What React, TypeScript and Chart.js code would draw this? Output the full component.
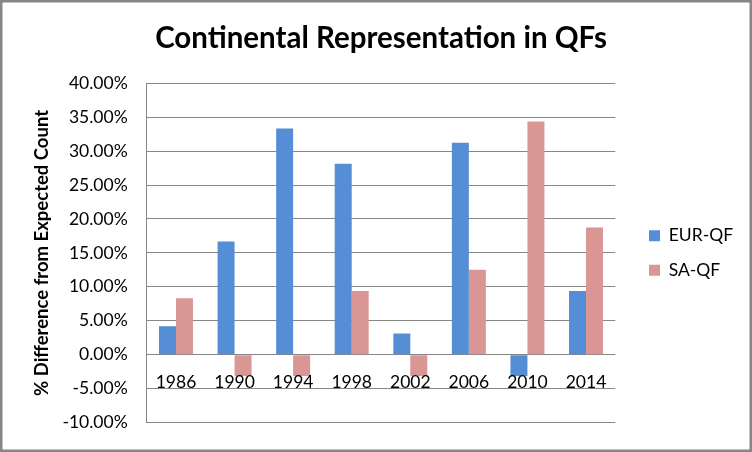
import { useEffect, useRef } from "react"
import { Chart, registerables } from "chart.js"

Chart.register(...registerables)

const years = ["1986", "1990", "1994", "1998", "2002", "2006", "2010", "2014"]
const eurQF = [4.17, 16.67, 33.33, 28.13, 3.13, 31.25, -3.13, 9.38]
const saQF = [8.33, -3.13, -3.13, 9.38, -3.13, 12.5, 34.38, 18.75]
const seriesNames = ["EUR-QF", "SA-QF"]
const yMin = -10
const yMax = 40
const yStep = 5

const FONT = "Lato"
const LABEL_SIZE = 17.5
const GRID = "#868686"

// white card with the grey frame around the whole picture
const frame = {
  id: "frame",
  beforeDraw(chart: Chart) {
    const { ctx, width, height } = chart
    ctx.save()
    ctx.fillStyle = "#fff"
    ctx.fillRect(0, 0, width, height)
    ctx.strokeStyle = GRID
    ctx.lineWidth = 2.5
    ctx.strokeRect(1.25, 1.25, width - 2.5, height - 2.5)
    ctx.restore()
  },
}

// category labels sit just under the zero line, like Excel does
const yearLabels = {
  id: "yearLabels",
  afterDatasetsDraw(chart: Chart) {
    const { ctx, scales } = chart
    const zero = scales.y.getPixelForValue(0)
    ctx.save()
    ctx.font = `${LABEL_SIZE}px ${FONT}`
    ctx.fillStyle = "#000"
    ctx.textAlign = "center"
    ctx.textBaseline = "alphabetic"
    years.forEach((yr, i) => {
      ctx.fillText(yr, scales.x.getPixelForValue(i), zero + 33)
    })
    ctx.restore()
  },
}

export default function App() {
  const chartRef = useRef<HTMLCanvasElement>(null)
  const chartInstance = useRef<Chart | null>(null)

  useEffect(() => {
    if (!chartRef.current) return
    if (chartInstance.current) chartInstance.current.destroy()

    const ctx = chartRef.current.getContext("2d")
    if (!ctx) return

    // legend width, so the plot ends where the reference's does
    ctx.font = `${LABEL_SIZE}px ${FONT}`
    const textW = Math.max(...seriesNames.map((n) => ctx.measureText(n).width))
    const legendPad = 17
    const legendW = legendPad + 11 + LABEL_SIZE / 2 + textW + 10
    const rightPad = Math.max(0, 752 - 632 - legendW)

    chartInstance.current = new Chart(ctx, {
      type: "bar",
      data: {
        labels: years,
        datasets: [
          {
            label: seriesNames[0],
            data: eurQF,
            backgroundColor: "#558ed5",
            categoryPercentage: 0.58,
            barPercentage: 1,
          },
          {
            label: seriesNames[1],
            data: saQF,
            backgroundColor: "#d99694",
            categoryPercentage: 0.58,
            barPercentage: 1,
          },
        ],
      },
      options: {
        responsive: true,
        maintainAspectRatio: false,
        animation: false,
        layout: { padding: { left: 0, right: rightPad, top: 0, bottom: 0 } },
        scales: {
          x: {
            grid: { display: false },
            border: { display: false },
            ticks: { display: false },
            afterFit: (s) => {
              s.height = 24.7
            },
          },
          y: {
            min: yMin,
            max: yMax,
            grid: { color: GRID, drawTicks: false },
            border: { display: true, color: GRID },
            ticks: {
              stepSize: yStep,
              padding: 19,
              color: "#000",
              font: { family: FONT, size: LABEL_SIZE },
              callback: (v) => Number(v).toFixed(2) + "%",
            },
            title: {
              display: true,
              text: "% Difference from Expected Count",
              color: "#000",
              font: { family: FONT, size: 18.5, weight: "bold" },
              padding: { top: 30.6, bottom: 0 },
            },
            afterFit: (s) => {
              s.width = 146.7
            },
          },
          // empty spacer between the plot and the legend
          gap: {
            type: "linear",
            position: "right",
            grid: { display: false },
            border: { display: false },
            ticks: { display: false },
            afterFit: (s) => {
              s.width = 16.7
            },
          },
        },
        plugins: {
          title: {
            display: true,
            fullSize: false,
            text: "Continental Representation in QFs",
            color: "#000",
            font: { family: FONT, size: 29.5, weight: "bold" },
            padding: { top: 20.6, bottom: 27.3 },
          },
          legend: {
            position: "right",
            fullSize: false,
            labels: {
              boxWidth: 11,
              boxHeight: 11,
              padding: legendPad,
              color: "#000",
              font: { family: FONT, size: LABEL_SIZE },
            },
          },
          tooltip: { enabled: false },
        },
      },
      plugins: [frame, yearLabels],
    })

    return () => {
      if (chartInstance.current) {
        chartInstance.current.destroy()
        chartInstance.current = null
      }
    }
  }, [])

  return (
    <div style={{ position: "fixed", left: 0, top: 0, width: 752, height: 452 }}>
      <canvas ref={chartRef} />
    </div>
  )
}
